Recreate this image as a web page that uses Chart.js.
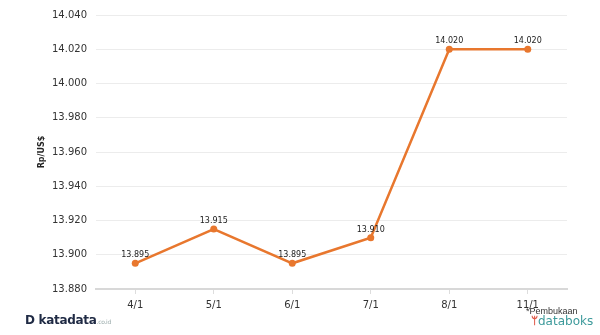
<!DOCTYPE html>
<html>
<head>
<meta charset="utf-8">
<script src="https://cdn.jsdelivr.net/npm/chart.js@4.4.1/dist/chart.umd.min.js"></script>
<style>
  html, body { margin: 0; padding: 0; background: #fff; }
  #wrap { position: relative; width: 600px; height: 335px; }
  #c { position: absolute; left: 0; top: 0; }
  .logo { position: absolute; left: 25px; top: 313px; font-family: "DejaVu Sans", sans-serif; font-weight: bold; font-size: 12px; color: #1f2a44; letter-spacing: -0.3px; }
  .logo small { font-size: 6px; color: #9aa; font-weight: normal; }
  .note { position: absolute; left: 526px; top: 306px; font-family: "Liberation Sans", Arial, sans-serif; font-size: 9px; color: #333; }
  .db { position: absolute; left: 531px; top: 314px; font-family: "DejaVu Sans", sans-serif; font-size: 12px; color: #3d9a9b; }
  .db span { color: #e05a4a; font-weight: bold; }
</style>
</head>
<body>
<div id="wrap">
  <canvas id="c" width="600" height="335"></canvas>
  <div class="logo">D katadata<small>.co.id</small></div>
  <div class="note">*Pembukaan</div>
  <div class="db"><span>ᛘ</span>databoks</div>
</div>
<script>
const categories = ["4/1", "5/1", "6/1", "7/1", "8/1", "11/1"];
const rateValues = [13895, 13915, 13895, 13910, 14020, 14020];
const yTicks = [13880, 13900, 13920, 13940, 13960, 13980, 14000, 14020, 14040];

const fmt = v => {
  const s = String(Math.round(v));
  return s.replace(/\B(?=(\d{3})+(?!\d))/g, ".");
};

const FONT = '"DejaVu Sans", Verdana, sans-serif';
const ORANGE = '#e8772e';

const labelPlugin = {
  id: 'pointLabels',
  afterDatasetsDraw(chart) {
    const ctx = chart.ctx;
    const meta = chart.getDatasetMeta(0);
    ctx.save();
    ctx.font = '8px ' + FONT;
    ctx.fillStyle = '#222';
    ctx.textAlign = 'center';
    ctx.textBaseline = 'bottom';
    meta.data.forEach((pt, i) => {
      ctx.fillText(fmt(rateValues[i]), pt.x, pt.y - 4);
    });
    ctx.restore();
  }
};

new Chart(document.getElementById('c'), {
  type: 'line',
  data: {
    labels: categories,
    datasets: [{
      data: rateValues,
      borderColor: ORANGE,
      backgroundColor: ORANGE,
      borderWidth: 2.5,
      pointRadius: 3.5,
      pointBackgroundColor: ORANGE,
      pointBorderWidth: 0,
      tension: 0,
      fill: false
    }]
  },
  options: {
    responsive: false,
    animation: false,
    layout: { padding: { left: 0, right: 33, top: 15, bottom: 0 } },
    plugins: { legend: { display: false }, tooltip: { enabled: false } },
    scales: {
      x: {
        offset: true,
        grid: { display: true, drawOnChartArea: false, drawTicks: true, tickLength: 5, offset: false, color: '#ddd' },
        border: { display: true, color: '#d8d8d8', width: 2 },
        ticks: { color: '#333', font: { family: FONT, size: 10 }, padding: 5, maxRotation: 0 },
        afterFit(scale) { scale.height = 46; }
      },
      y: {
        min: 13880,
        max: 14040,
        afterBuildTicks(scale) { scale.ticks = yTicks.map(v => ({ value: v })); },
        grid: { color: '#ececec', drawTicks: false },
        border: { display: false },
        ticks: { color: '#333', font: { family: FONT, size: 10 }, padding: 9, callback: v => fmt(v) },
        title: { display: true, text: 'Rp/US$', color: '#222', font: { family: FONT, size: 8, weight: 'bold' }, padding: { top: 37, bottom: 0 } },
        afterFit(scale) { scale.width = 96; }
      }
    }
  },
  plugins: [labelPlugin]
});
</script>
</body>
</html>
